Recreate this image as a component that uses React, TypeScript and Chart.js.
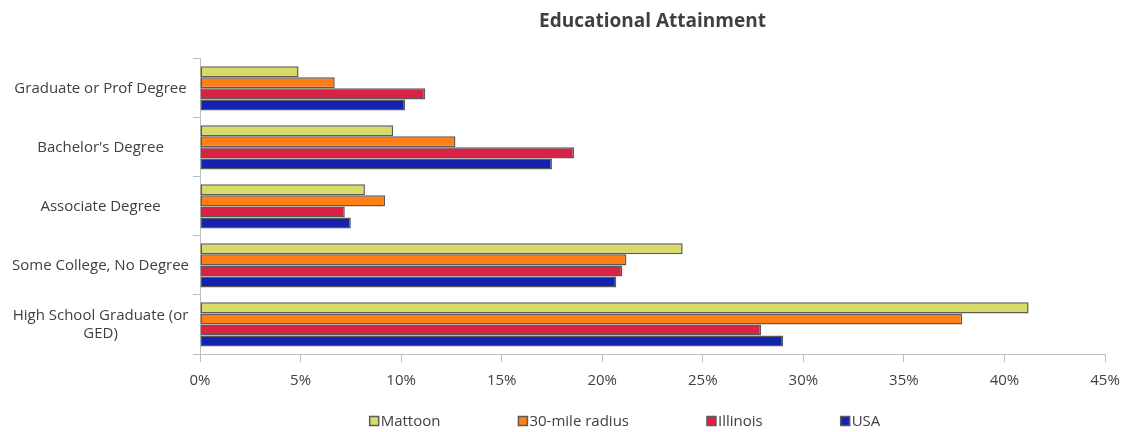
import React, { useEffect, useRef } from "react";
import { Chart, registerables } from "chart.js";

Chart.register(...registerables);

const categories: (string | string[])[] = [
  "Graduate or Prof Degree",
  "Bachelor's Degree",
  "Associate Degree",
  "Some College, No Degree",
  ["High School Graduate (or", "GED)"],
];

const mattoon = [4.9, 9.6, 8.2, 24.0, 41.2];
const radius30 = [6.7, 12.7, 9.2, 21.2, 37.9];
const illinois = [11.2, 18.6, 7.2, 21.0, 27.9];
const usa = [10.2, 17.5, 7.5, 20.7, 29.0];

const seriesNames = ["Mattoon", "30-mile radius", "Illinois", "USA"];
const seriesColors = ["#D9DB69", "#FF7F16", "#D92346", "#1423AE"];

const xTicks = [0, 5, 10, 15, 20, 25, 30, 35, 40, 45];

const FONT = "'Open Sans', sans-serif";
const TEXT = "#404040";

// Legend row drawn under the x axis: square swatch, label, wide gap.
const legendRow = {
  id: "legendRow",
  afterDraw(chart: any) {
    const ctx = chart.ctx as CanvasRenderingContext2D;
    const items = chart.data.datasets.map((ds: any) => ({
      label: ds.label as string,
      color: ds.backgroundColor as string,
    }));
    const box = 9;
    const gapAfterBox = 2;
    const gapBetween = 78;
    ctx.save();
    ctx.font = `15px ${FONT}`;
    const widths = items.map((it: any) => box + gapAfterBox + ctx.measureText(it.label).width);
    const total = widths.reduce((a: number, b: number) => a + b, 0) + gapBetween * (items.length - 1);
    const centerX = 625;
    const y = 422;
    let x = centerX - total / 2;
    items.forEach((it: any, i: number) => {
      ctx.fillStyle = it.color;
      ctx.fillRect(x, y - box / 2 - 1, box, box);
      ctx.strokeStyle = "#5a5a5a";
      ctx.lineWidth = 1.5;
      ctx.strokeRect(x, y - box / 2 - 1, box, box);
      ctx.fillStyle = TEXT;
      ctx.textBaseline = "middle";
      ctx.textAlign = "left";
      ctx.fillText(it.label, x + box + gapAfterBox, y);
      x += widths[i] + gapBetween;
    });
    ctx.restore();
  },
};

export default function App() {
  const canvasRef = useRef<HTMLCanvasElement | null>(null);

  useEffect(() => {
    const canvas = canvasRef.current;
    if (!canvas) return;
    const values = [mattoon, radius30, illinois, usa];
    const chart = new Chart(canvas, {
      type: "bar",
      data: {
        labels: categories,
        datasets: values.map((v, i) => ({
          label: seriesNames[i],
          data: v,
          backgroundColor: seriesColors[i],
          borderColor: "#5a5a5a",
          borderWidth: 1.5,
          borderSkipped: false,
          categoryPercentage: 0.75,
          barPercentage: 1,
        })),
      },
      plugins: [legendRow],
      options: {
        indexAxis: "y",
        animation: false,
        responsive: false,
        maintainAspectRatio: false,
        layout: { padding: { left: 0, right: 20, top: 10, bottom: 32 } },
        scales: {
          x: {
            min: 0,
            max: 45,
            afterBuildTicks: (scale: any) => {
              scale.ticks = xTicks.map((v) => ({ value: v }));
            },
            afterFit: (scale: any) => {
              scale.paddingLeft = 0;
              scale.paddingRight = 0;
            },
            ticks: {
              callback: (v: any) => v + "%",
              color: TEXT,
              font: { family: FONT, size: 15 },
              padding: 10,
            },
            grid: {
              drawOnChartArea: false,
              drawTicks: true,
              tickLength: 8,
              color: "#bfbfbf",
            },
            border: { color: "#bfbfbf", width: 1 },
          },
          y: {
            afterFit: (scale: any) => {
              scale.width = 200;
            },
            ticks: {
              color: TEXT,
              font: { family: FONT, size: 15 },
              crossAlign: "center",
              padding: 4,
            },
            grid: {
              offset: true,
              drawOnChartArea: false,
              drawTicks: true,
              tickLength: 7,
              color: "#bfbfbf",
            },
            border: { color: "#bfbfbf", width: 1 },
          },
        },
        plugins: {
          title: {
            display: true,
            text: "Educational Attainment",
            fullSize: false,
            color: TEXT,
            font: { family: FONT, size: 19, weight: "bold" },
            padding: { top: 0, bottom: 26 },
          },
          legend: { display: false },
          tooltip: { enabled: false },
        },
      },
    } as any);
    return () => chart.destroy();
  }, []);

  return (
    <div style={{ position: "absolute", left: 0, top: 0, width: 1125, height: 432 }}>
      <canvas ref={canvasRef} width={1125} height={432} />
    </div>
  );
}
